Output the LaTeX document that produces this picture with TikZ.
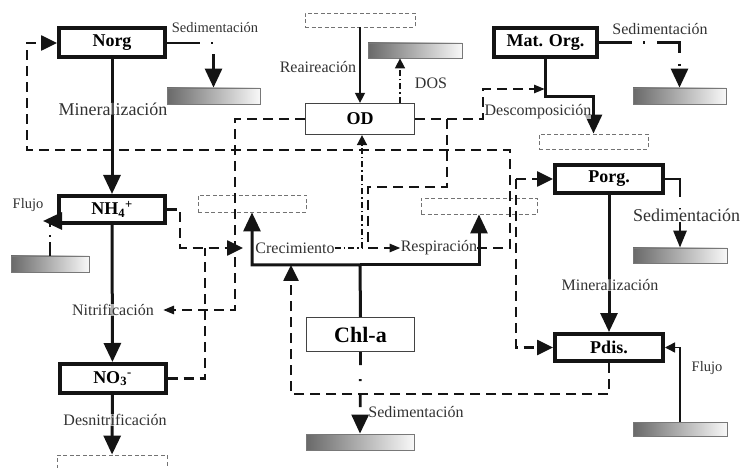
\documentclass[tikz,border=0pt]{standalone}
\usepackage{fontspec}
\setmainfont{Liberation Serif}
\usetikzlibrary{arrows.meta, positioning, calc}
\definecolor{inkBlack}{RGB}{20,20,20}
\definecolor{labelGray}{RGB}{50,50,50}
\definecolor{sinkGray}{RGB}{115,115,115}
\definecolor{barDark}{RGB}{105,105,105}
\definecolor{barLight}{RGB}{248,248,248}
\definecolor{barEdge}{RGB}{120,120,120}
\newcommand{\poolfont}{\fontsize{18}{20}\selectfont\bfseries}
\newcommand{\chlfont}{\fontsize{22}{24}\selectfont\bfseries}
\newcommand{\procfont}{\fontsize{16}{18}\selectfont}
\newcommand{\smallproc}{\fontsize{14.5}{16}\selectfont}
\newcommand{\bigproc}{\fontsize{18}{20}\selectfont}
\tikzset{
    poolbox/.style={
        rectangle,
        draw=inkBlack,
        line width=4pt,
        fill=white,
        minimum width=106pt,
        minimum height=29pt,
        inner sep=0pt,
        font=\poolfont
    },
    plainbox/.style={
        rectangle,
        draw=inkBlack!80,
        line width=1.2pt,
        fill=white,
        minimum width=109pt,
        minimum height=31pt,
        inner sep=0pt,
        font=\poolfont
    },
    sinkbox/.style={rectangle, draw=sinkGray, dash pattern=on 4pt off 2.5pt, line width=0.9pt, inner sep=0pt},
    sedbar/.style={rectangle, draw=barEdge, line width=0.8pt, left color=barDark, right color=barLight, inner sep=0pt},
    proc/.style={inner sep=0pt, text=labelGray, font=\procfont},
    overline/.style={proc, fill=white, fill opacity=0.65, text opacity=1},
    flowarrow/.style={-{Triangle[length=19pt, width=17pt]}, line width=3pt, draw=inkBlack},
    thinarrow/.style={-{Triangle[length=10pt, width=10pt]}, line width=1.4pt, draw=inkBlack},
    linkline/.style={line width=2.6pt, dash pattern=on 10pt off 6pt, draw=inkBlack},
    linkarrow/.style={linkline, -{Triangle[length=16pt, width=15pt]}},
    smalllink/.style={linkline, -{Triangle[length=11pt, width=8pt]}},
    dotlink/.style={-{Triangle[length=10pt, width=10pt]}, line width=1.6pt, dash pattern=on 6pt off 3pt on 1.5pt off 3pt, draw=inkBlack},
    sedline/.style={line width=2.6pt, dash pattern=on 14pt off 5pt on 2pt off 8pt, draw=inkBlack},
    sedarrow/.style={-{Triangle[length=19pt, width=17pt]}, line width=2.8pt, dash pattern=on 33pt off 11pt on 2pt off 12pt, draw=inkBlack}
}

\begin{document}
\begin{tikzpicture}[x=1pt, y=-1pt]
    \useasboundingbox (0,0) rectangle (740,468);
    \clip (0,0) rectangle (740,468);

    \node[poolbox] (norg) at (112,43) {Norg};
    \node[poolbox, minimum height=27pt] (nh4) at (112,209.5) {NH\textsubscript{4}\textsuperscript{+}};
    \node[poolbox] (no3) at (112.5,378.5) {NO\textsubscript{3}\textsuperscript{-}};
    \node[poolbox, minimum width=103pt] (matorg) at (545.5,42.5) {Mat. Org.};
    \node[poolbox, minimum width=108pt, minimum height=28pt] (porg) at (609,179) {Porg.};
    \node[poolbox, minimum width=108pt, minimum height=27pt] (pdis) at (609,347.5) {Pdis.};
    \node[plainbox] (od) at (360,119) {OD};
    \node[plainbox, minimum width=108pt, minimum height=34pt, font=\chlfont] (chla) at (360.5,334.5) {Chl-a};

    \node[sinkbox, minimum width=110pt, minimum height=14pt] (reair) at (360,20) {};
    \node[sinkbox, minimum width=108pt, minimum height=17pt] (crecsink) at (252,203.5) {};
    \node[sinkbox, minimum width=116pt, minimum height=16pt] (respsink) at (479,206) {};
    \node[sinkbox, minimum width=109pt, minimum height=15pt] (descsink) at (593.5,141.5) {};
    \node[sinkbox, minimum width=110pt, minimum height=24pt] (desnsink) at (112,467) {};

    \node[sedbar, minimum width=93pt, minimum height=16pt] (norgbed) at (213.5,96) {};
    \node[sedbar, minimum width=94pt, minimum height=15pt] (dosbed) at (415,50.5) {};
    \node[sedbar, minimum width=93pt, minimum height=16pt] (matbed) at (679.5,96) {};
    \node[sedbar, minimum width=94pt, minimum height=15pt] (porgbed) at (680,255.5) {};
    \node[sedbar, minimum width=78pt, minimum height=16pt] (nh4bed) at (50,264) {};
    \node[sedbar, minimum width=108pt, minimum height=16pt] (chlbed) at (360,442) {};
    \node[sedbar, minimum width=94pt, minimum height=14pt] (pdisbed) at (680,429) {};

    \node[proc] (crec) at (295,248) {Crecimiento};
    \node[proc] (resp) at (439,248) {Respiración};
    \node[proc] (reairlbl) at (318,67) {Reaireación};
    \node[proc] (doslbl) at (431,83) {DOS};
    \node[proc, font=\smallproc] (norgsed) at (215,28) {Sedimentación};
    \node[proc] (matsed) at (660,29) {Sedimentación};
    \node[proc] (chlsed) at (416,412) {Sedimentación};
    \node[proc, font=\smallproc] (nflujo) at (28,205) {Flujo};
    \node[proc, font=\smallproc] (pflujo) at (707,368) {Flujo};

    \coordinate (split) at (360,265);
    \coordinate (rtop) at (510,150);
    \coordinate (nback) at (27,43);
    \coordinate (descup) at (483,89);
    \coordinate (descin) at (545,89);
    \coordinate (descbend) at (593.5,97);
    \coordinate (odr) at (447,119);
    \coordinate (odr2) at (368,187);
    \coordinate (ncr) at (180,248);
    \coordinate (crecin) at (243,248);
    \coordinate (nojoin) at (205,248);
    \coordinate (odn) at (235,310);
    \coordinate (nitin) at (163,310);
    \coordinate (pbr) at (516,179);
    \coordinate (pgr) at (291,394);
    \coordinate (pgrin) at (291,265);
    \coordinate (nflux) at (50,221);

    \draw[flowarrow] (norg) -- (nh4);
    \draw[flowarrow] (nh4) -- (no3);
    \draw[flowarrow] (no3) -- (desnsink);
    \draw[flowarrow] (porg) -- (pdis);
    \draw[flowarrow] (matorg.south) |- (descbend) -- (descsink.north);
    \draw[flowarrow] (chla.north) -- (split) -| (crecsink.south);
    \draw[flowarrow] (split) -| (respsink.south);
    \draw[thinarrow] (reair) -- (od);
    \draw[thinarrow] (pdisbed.north) |- (pdis.east);
    \draw[sedline] (nh4bed.north) -- (nflux);
    \draw[flowarrow] (nh4.west |- nflux) -- ([xshift=-7pt]nflux);

    \draw[sedarrow] (norg.east) -| (norgbed.north);
    \draw[sedarrow] (matorg.east) -| (matbed.north);
    \draw[sedarrow, -{Triangle[length=17pt, width=13pt]}] (porg.east) -| (porgbed.north);
    \draw[sedarrow, dash pattern=on 13pt off 14pt on 2pt off 13pt] (chla.south) -- (chlbed.north);
    \draw[dotlink] ([xshift=40pt]od.north) -- ([xshift=-15pt]dosbed.south);

    \draw[linkarrow] (resp.east) -| (rtop) -| (nback) -- (norg.west);
    \draw[smalllink] (od.east) -| (descup) -- (descin);
    \draw[smalllink] (odr) |- (odr2) |- (resp.west);
    \draw[dotlink] (crec.east) -| ([xshift=2pt]od.south);
    \draw[linkarrow] (nh4.east) -| (ncr) -- (crecin);
    \draw[linkline] (no3.east) -| (nojoin);
    \draw[smalllink] (od.west) -| (odn) -- (nitin);
    \draw[linkarrow] (pbr) -- (porg.west);
    \draw[linkarrow] (pbr) |- (pdis.west);
    \draw[linkarrow] (pdis.south) |- (pgr) -- (pgrin);

    \node[overline, font=\bigproc] (nminlbl) at (113,109) {Mineralización};
    \node[overline] (nitrif) at (113,310) {Nitrificación};
    \node[overline] (desnlbl) at (115,420) {Desnitrificación};
    \node[overline] (desclbl) at (538,112) {Descomposición};
    \node[overline, font=\bigproc] (porgsed) at (686.5,215) {Sedimentación};
    \node[overline] (pminlbl) at (610,285) {Mineralización};
\end{tikzpicture}
\end{document}
